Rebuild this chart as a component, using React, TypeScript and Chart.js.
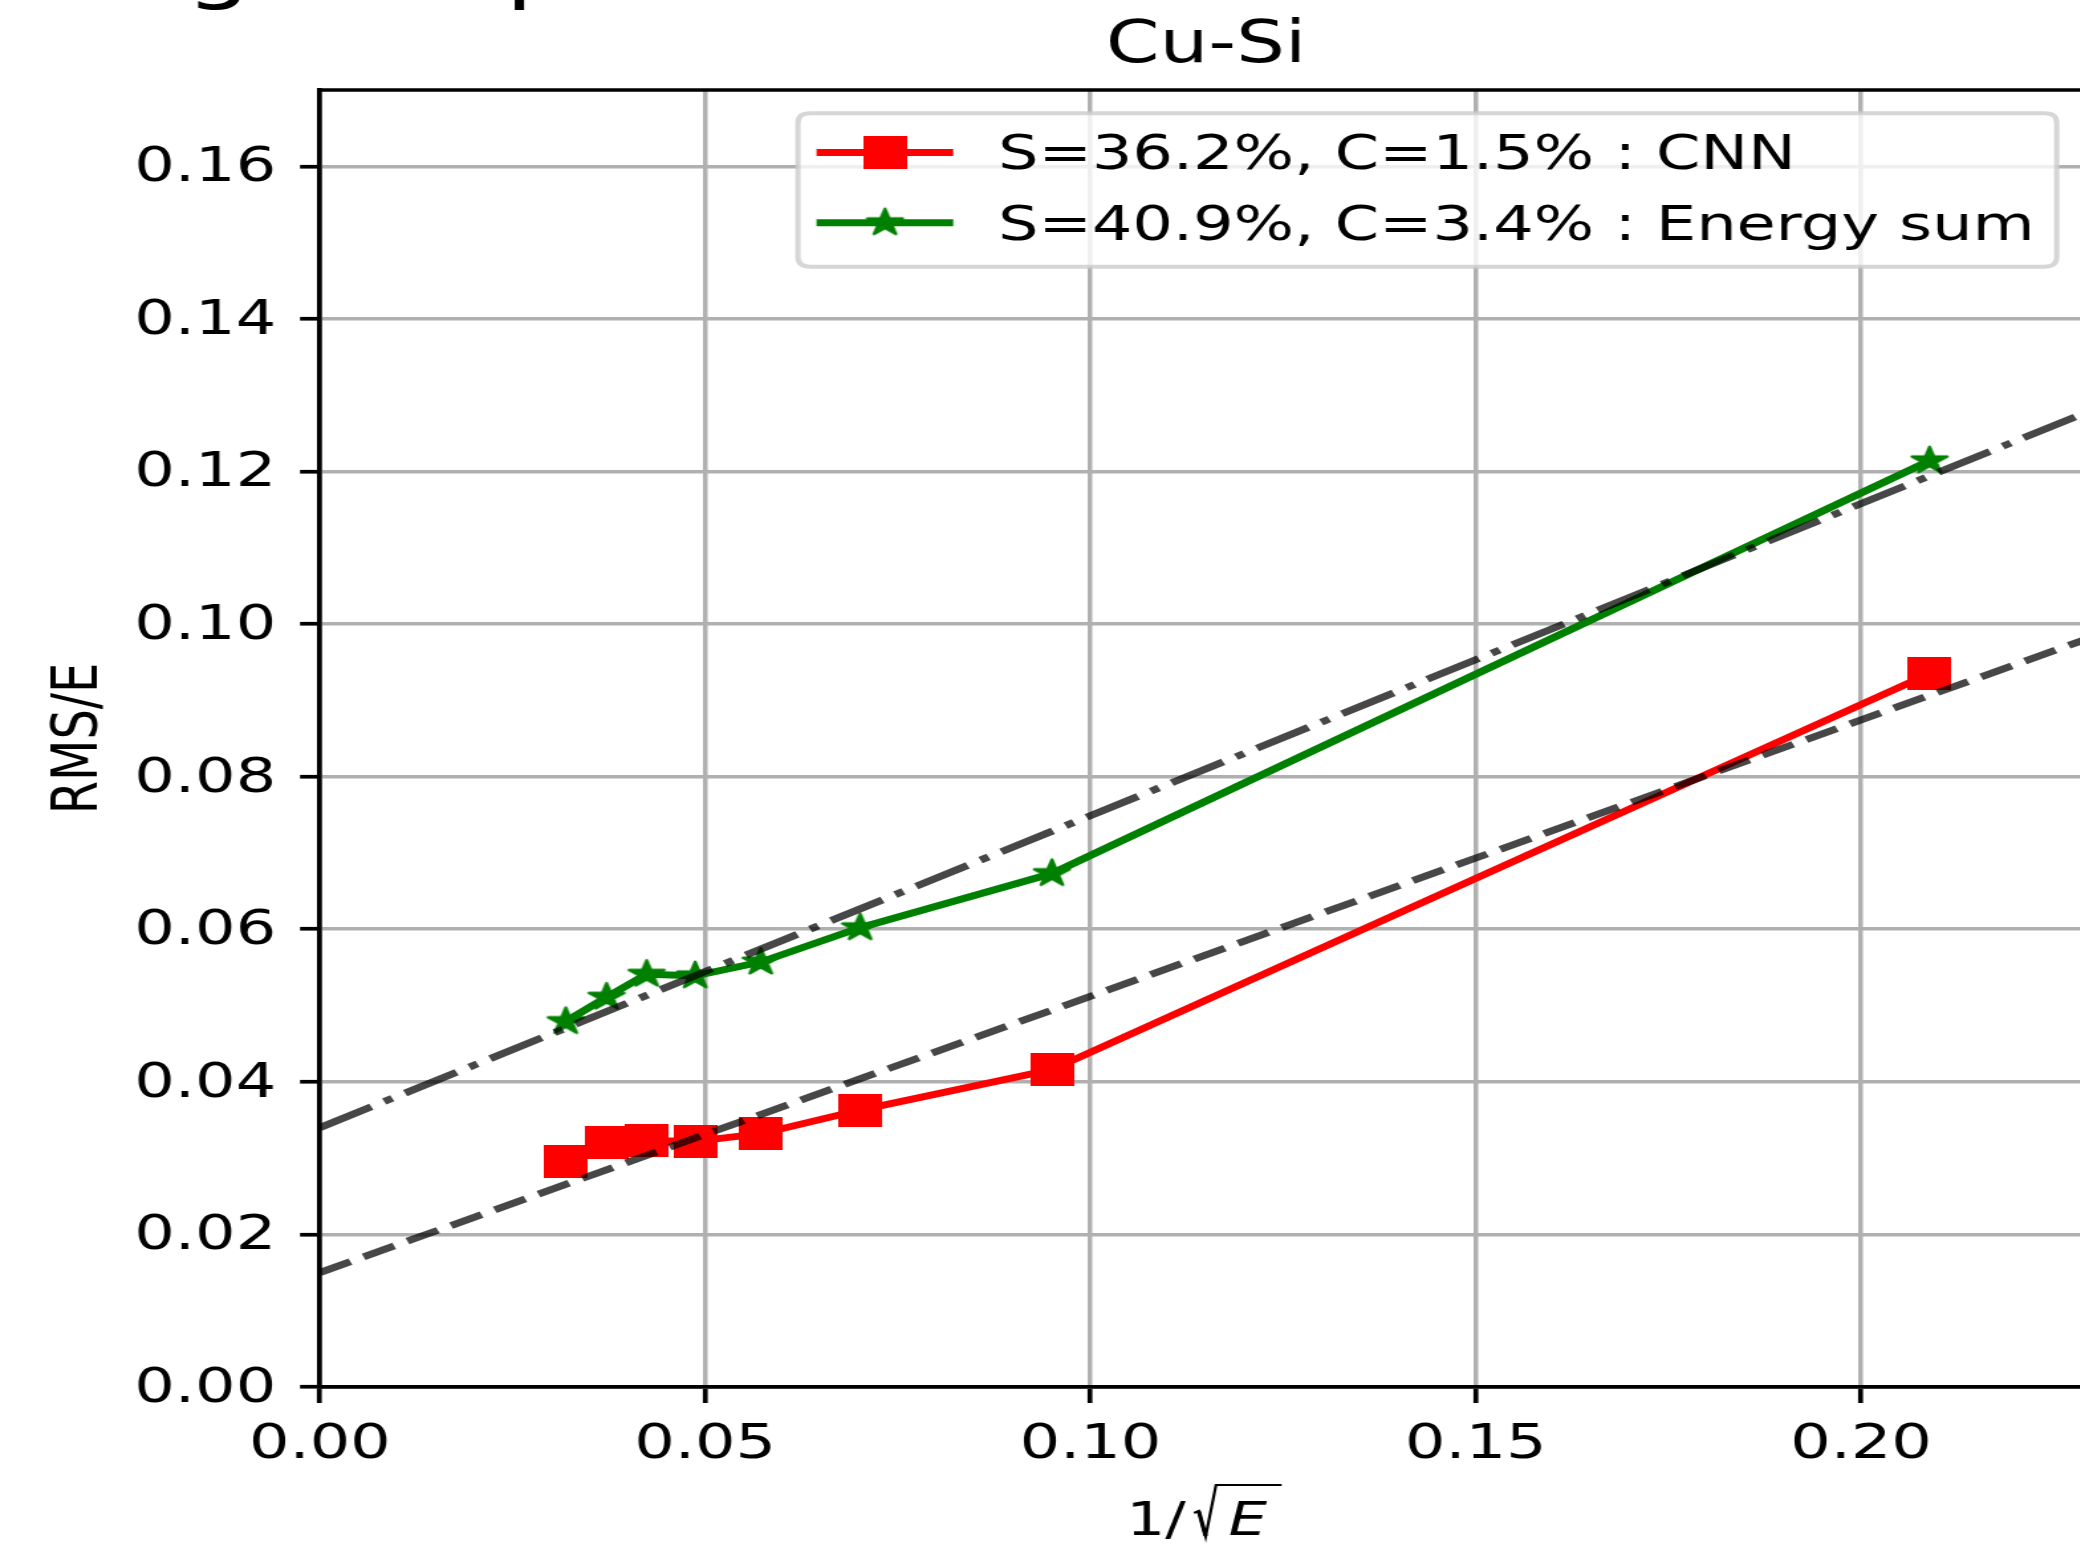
import { useEffect, useRef } from 'react';
import { Chart, registerables } from 'chart.js';

Chart.register(...registerables);

// ---------------- data ----------------
const xValues = [0.0319, 0.0372, 0.0424, 0.0487, 0.0572, 0.0701, 0.095, 0.2089];
const cnnValues = [0.0295, 0.032, 0.0323, 0.0322, 0.0332, 0.0363, 0.0416, 0.0935];
const energySumValues = [0.0479, 0.0511, 0.0541, 0.0539, 0.0557, 0.0602, 0.0673, 0.1214];
const fitX = [0, 0.2289];
const cnnFitY = [0.015, 0.0979];
const energySumFitY = [0.034, 0.1276];
const seriesLabels = ['S=36.2%, C=1.5% : CNN', 'S=40.9%, C=3.4% : Energy sum'];
const xTickValues = [0, 0.05, 0.1, 0.15, 0.2];
const yTickValues = [0, 0.02, 0.04, 0.06, 0.08, 0.1, 0.12, 0.14, 0.16];
const titleText = 'Cu-Si';
const yAxisLabel = 'RMS/E';
const headerFragment = 'ing comparison';

const X_MIN = 0;
const X_MAX = 0.2289;
const X_AXIS_FULL = 0.23;
const Y_MIN = 0;
const Y_MAX = 0.17;

// ---------------- geometry / style ----------------
const STRETCH = 2080 / 1568;
const CANVAS_W = 1572; // chart area ends at ~1568 (the visible edge), rest is cropped
const CANVAS_H = 1549;
const FONT = "'DejaVu Sans', sans-serif";
const RED = '#ff0000';
const GREEN = '#008000';
const FIT = 'rgba(0,0,0,0.72)';
const LW = 6.9;

function makeSquare(side: number, color: string) {
  const c = document.createElement('canvas');
  c.width = side;
  c.height = side;
  const g = c.getContext('2d')!;
  g.fillStyle = color;
  g.fillRect(0, 0, side, side);
  return c;
}

function makeStar(R: number, color: string) {
  const pad = 3;
  const size = Math.ceil(2 * (R + pad));
  const c = document.createElement('canvas');
  c.width = size;
  c.height = size;
  const g = c.getContext('2d')!;
  const cx = size / 2;
  const cy = size / 2;
  const r = R * 0.381966;
  g.beginPath();
  for (let i = 0; i < 10; i++) {
    const ang = -Math.PI / 2 + (i * Math.PI) / 5;
    const rr = i % 2 === 0 ? R : r;
    const px = cx + rr * Math.cos(ang);
    const py = cy + rr * Math.sin(ang);
    if (i === 0) g.moveTo(px, py);
    else g.lineTo(px, py);
  }
  g.closePath();
  g.fillStyle = color;
  g.fill();
  g.strokeStyle = color;
  g.lineWidth = 2.4;
  g.lineJoin = 'round';
  g.stroke();
  return c;
}

export default function App() {
  const ref = useRef<HTMLCanvasElement>(null);

  useEffect(() => {
    const canvas = ref.current;
    if (!canvas) return;
    const square = makeSquare(33, RED);
    const star = makeStar(14, GREEN);

    const overlay = {
      id: 'overlay',
      afterDraw(chart: any) {
        const ctx = chart.ctx as CanvasRenderingContext2D;
        const a = chart.chartArea;
        const xs = chart.scales.x;
        const cx = xs.getPixelForValue(X_AXIS_FULL / 2);
        ctx.save();

        // header fragment (cut off at the top of the picture)
        ctx.fillStyle = '#000';
        ctx.font = `78px ${FONT}`;
        ctx.textAlign = 'left';
        ctx.textBaseline = 'alphabetic';
        ctx.fillText(headerFragment, 69, -6);

        // top spine
        ctx.strokeStyle = '#000';
        ctx.lineWidth = 3.7;
        ctx.beginPath();
        ctx.moveTo(a.left - 1.85, a.top);
        ctx.lineTo(a.right + 4, a.top);
        ctx.stroke();

        // title
        ctx.fillStyle = '#000';
        ctx.font = `58px ${FONT}`;
        ctx.textAlign = 'center';
        ctx.fillText(titleText, cx, 62);

        // y label
        ctx.save();
        ctx.translate(72.9, (a.top + a.bottom) / 2);
        ctx.rotate(-Math.PI / 2);
        ctx.font = `48px ${FONT}`;
        ctx.textAlign = 'center';
        ctx.textBaseline = 'alphabetic';
        ctx.fillText(yAxisLabel, 0, 0);
        ctx.restore();

        // x label: 1/sqrt(E)
        const base = 1535;
        ctx.font = `46px ${FONT}`;
        ctx.textAlign = 'left';
        ctx.fillText('1/', cx - 60, base);
        ctx.strokeStyle = '#000';
        ctx.lineJoin = 'miter';
        ctx.lineWidth = 2.2;
        ctx.beginPath();
        ctx.moveTo(cx - 9, base - 22);
        ctx.lineTo(cx - 5.5, base - 24);
        ctx.lineTo(cx - 0.3, base + 1.5);
        ctx.lineTo(cx + 7.5, base - 50);
        ctx.lineTo(cx + 57, base - 50);
        ctx.stroke();
        ctx.lineWidth = 3.2;
        ctx.beginPath();
        ctx.moveTo(cx - 5.5, base - 24);
        ctx.lineTo(cx - 0.3, base + 1);
        ctx.stroke();
        ctx.font = `oblique 46px ${FONT}`;
        ctx.fillText('E', cx + 17, base);

        // legend
        const lx0 = 601.6;
        const lx1 = 1550.7;
        const ly0 = 113.3;
        const ly1 = 266.7;
        const rad = 9.4;
        ctx.beginPath();
        ctx.moveTo(lx0 + rad, ly0);
        ctx.lineTo(lx1 - rad, ly0);
        ctx.quadraticCurveTo(lx1, ly0, lx1, ly0 + rad);
        ctx.lineTo(lx1, ly1 - rad);
        ctx.quadraticCurveTo(lx1, ly1, lx1 - rad, ly1);
        ctx.lineTo(lx0 + rad, ly1);
        ctx.quadraticCurveTo(lx0, ly1, lx0, ly1 - rad);
        ctx.lineTo(lx0, ly0 + rad);
        ctx.quadraticCurveTo(lx0, ly0, lx0 + rad, ly0);
        ctx.closePath();
        ctx.fillStyle = 'rgba(255,255,255,0.8)';
        ctx.fill();
        ctx.strokeStyle = 'rgba(204,204,204,0.8)';
        ctx.lineWidth = 4;
        ctx.stroke();

        const rows = [
          { color: RED, img: square, lineY: 152.5, base: 169, text: seriesLabels[0] },
          { color: GREEN, img: star, lineY: 222.7, base: 239.5, text: seriesLabels[1] },
        ];
        for (const r of rows) {
          ctx.strokeStyle = r.color;
          ctx.lineWidth = LW;
          ctx.lineCap = 'butt';
          ctx.beginPath();
          ctx.moveTo(615.6, r.lineY);
          ctx.lineTo(718.7, r.lineY);
          ctx.stroke();
          ctx.drawImage(r.img, 667.2 - r.img.width / 2, r.lineY - r.img.height / 2);
          ctx.fillStyle = '#000';
          ctx.font = `48px ${FONT}`;
          ctx.textAlign = 'left';
          ctx.textBaseline = 'alphabetic';
          ctx.fillText(r.text, 752.5, r.base);
        }
        ctx.restore();
      },
    };

    const tickFont = { family: FONT, size: 48 };

    const chart = new Chart(canvas, {
      type: 'scatter',
      data: {
        datasets: [
          {
            label: 'CNN fit',
            data: fitX.map((x, i) => ({ x, y: cnnFitY[i] })),
            showLine: true,
            borderColor: FIT,
            borderWidth: LW,
            borderDash: [25.5, 11],
            pointRadius: 0,
            pointHoverRadius: 0,
            order: 0,
          },
          {
            label: 'Energy sum fit',
            data: fitX.map((x, i) => ({ x, y: energySumFitY[i] })),
            showLine: true,
            borderColor: FIT,
            borderWidth: LW,
            borderDash: [44, 11, 6.9, 11],
            pointRadius: 0,
            pointHoverRadius: 0,
            order: 0,
          },
          {
            label: seriesLabels[0],
            data: xValues.map((x, i) => ({ x, y: cnnValues[i] })),
            showLine: true,
            borderColor: RED,
            backgroundColor: RED,
            borderWidth: LW,
            pointStyle: square as any,
            pointRadius: 1,
            pointHoverRadius: 1,
            pointBorderWidth: 0,
            order: 1,
          },
          {
            label: seriesLabels[1],
            data: xValues.map((x, i) => ({ x, y: energySumValues[i] })),
            showLine: true,
            borderColor: GREEN,
            backgroundColor: GREEN,
            borderWidth: LW,
            pointStyle: star as any,
            pointRadius: 1,
            pointHoverRadius: 1,
            pointBorderWidth: 0,
            order: 1,
          },
        ],
      },
      options: {
        responsive: false,
        maintainAspectRatio: false,
        devicePixelRatio: 1,
        animation: false,
        events: [],
        layout: { padding: { top: 90, left: 0, right: 0, bottom: 0 } },
        plugins: {
          legend: { display: false },
          title: { display: false },
          tooltip: { enabled: false },
        },
        scales: {
          x: {
            type: 'linear',
            min: X_MIN,
            max: X_MAX,
            afterBuildTicks: (s: any) => {
              s.ticks = xTickValues.map((v) => ({ value: v }));
            },
            afterFit: (s: any) => {
              s.height = CANVAS_H - 1387;
            },
            ticks: {
              font: tickFont,
              color: '#000',
              padding: 14,
              maxRotation: 0,
              minRotation: 0,
              autoSkip: false,
              callback: (v: any) => Number(v).toFixed(2),
            },
            grid: { color: '#b0b0b0', lineWidth: 3.5, tickColor: '#000', tickWidth: 3.7, tickLength: 16 },
            border: { color: '#000', width: 3.7 },
          },
          y: {
            type: 'linear',
            min: Y_MIN,
            max: Y_MAX,
            afterBuildTicks: (s: any) => {
              s.ticks = yTickValues.map((v) => ({ value: v }));
            },
            afterFit: (s: any) => {
              s.width = 241.2;
            },
            ticks: {
              font: tickFont,
              color: '#000',
              padding: 18,
              labelOffset: 2.5,
              autoSkip: false,
              callback: (v: any) => Number(v).toFixed(2),
            },
            grid: { color: '#b0b0b0', lineWidth: 3.5, tickColor: '#000', tickWidth: 3.7, tickLength: 15 },
            border: { color: '#000', width: 3.7 },
          },
        },
      },
      plugins: [overlay],
    } as any);

    return () => chart.destroy();
  }, []);

  return (
    <div
      style={{
        position: 'fixed',
        left: 0,
        top: 0,
        width: 2080,
        height: 1549,
        overflow: 'hidden',
        background: '#fff',
      }}
    >
      <canvas
        ref={ref}
        width={CANVAS_W}
        height={CANVAS_H}
        style={{ width: `${CANVAS_W * STRETCH}px`, height: `${CANVAS_H}px`, display: 'block' }}
      />
    </div>
  );
}
